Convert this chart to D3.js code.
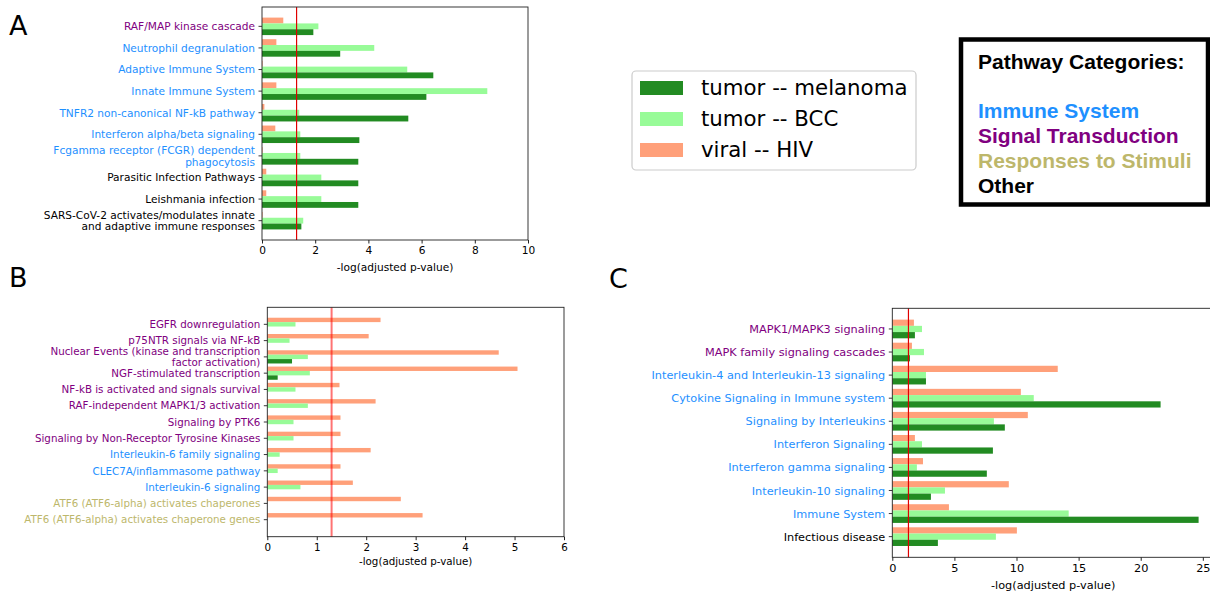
<!DOCTYPE html>
<html>
<head>
<meta charset="utf-8">
<script src="https://cdn.jsdelivr.net/npm/d3@7"></script>
<style>
  body { margin: 0; background: #fff; }
  svg { display: block; font-family: "DejaVu Sans", sans-serif; }
</style>
</head>
<body>
<div id="chart"></div>
<script>
// Data
var labelsA = ["RAF/MAP kinase cascade", "Neutrophil degranulation", "Adaptive Immune System",
  "Innate Immune System", "TNFR2 non-canonical NF-kB pathway", "Interferon alpha/beta signaling",
  "Fcgamma receptor (FCGR) dependent\nphagocytosis", "Parasitic Infection Pathways",
  "Leishmania infection", "SARS-CoV-2 activates/modulates innate\nand adaptive immune responses"];
var groupA = ["sig", "imm", "imm", "imm", "imm", "imm", "imm", "oth", "oth", "oth"];
var melA = [1.93, 2.94, 6.44, 6.18, 5.50, 3.66, 3.62, 3.62, 3.62, 1.48];
var bccA = [2.12, 4.22, 5.46, 8.47, 1.40, 1.44, 1.44, 2.23, 2.23, 1.55];
var hivA = [0.80, 0.54, 0.02, 0.54, 0.09, 0.50, 0.02, 0.16, 0.16, 0.02];

var labelsB = ["EGFR downregulation", "p75NTR signals via NF-kB",
  "Nuclear Events (kinase and transcription\nfactor activation)", "NGF-stimulated transcription",
  "NF-kB is activated and signals survival", "RAF-independent MAPK1/3 activation",
  "Signaling by PTK6", "Signaling by Non-Receptor Tyrosine Kinases", "Interleukin-6 family signaling",
  "CLEC7A/inflammasome pathway", "Interleukin-6 signaling", "ATF6 (ATF6-alpha) activates chaperones",
  "ATF6 (ATF6-alpha) activates chaperone genes"];
var groupB = ["sig", "sig", "sig", "sig", "sig", "sig", "sig", "sig", "imm", "imm", "imm", "stim", "stim"];
var melB = [0, 0, 0.50, 0.21, 0, 0, 0, 0, 0, 0, 0, 0, 0];
var bccB = [0.57, 0.45, 0.82, 0.86, 0.57, 0.82, 0.53, 0.53, 0.25, 0.21, 0.67, 0, 0];
var hivB = [2.29, 2.05, 4.68, 5.06, 1.46, 2.19, 1.48, 1.48, 2.09, 1.48, 1.73, 2.70, 3.14];

var labelsC = ["MAPK1/MAPK3 signaling", "MAPK family signaling cascades",
  "Interleukin-4 and Interleukin-13 signaling", "Cytokine Signaling in Immune system",
  "Signaling by Interleukins", "Interferon Signaling", "Interferon gamma signaling",
  "Interleukin-10 signaling", "Immune System", "Infectious disease"];
var groupC = ["sig", "sig", "imm", "imm", "imm", "imm", "imm", "imm", "imm", "oth"];
var melC = [1.82, 1.42, 2.71, 21.6, 9.06, 8.10, 7.61, 3.11, 24.66, 3.67];
var bccC = [2.39, 2.55, 2.71, 11.39, 8.18, 2.39, 1.98, 4.24, 14.2, 8.34];
var hivC = [1.74, 1.58, 13.32, 10.35, 10.91, 1.82, 2.47, 9.38, 4.56, 10.03];

var seriesNames = ["tumor -- melanoma", "tumor -- BCC", "viral -- HIV"];
var seriesColors = ["#228b22", "#98fb98", "#ffa07a"];
var groupNames = ["Immune System", "Signal Transduction", "Responses to Stimuli", "Other"];
var groupColors = { imm: "#1e90ff", sig: "#800080", stim: "#bdb76b", oth: "#000000" };
var threshold = 1.3;

var svg = d3.select("#chart").append("svg").attr("width", 1210).attr("height", 594);

function drawPanel(p) {
  var n = p.labels.length;
  var h = 0.27;
  var m = 0.05 * (n - 1 + 3 * h);
  var fs = p.fontSize;
  var x = d3.scaleLinear().domain([0, p.xmax]).range([p.left, p.right]);
  var y = d3.scaleLinear().domain([-1.5 * h - m, n - 1 + 1.5 * h + m]).range([p.top, p.bottom]);
  var g = svg.append("g");
  var bh = y(h) - y(0);

  // bars: HIV on top, BCC middle, melanoma bottom
  var sets = [[p.hiv, seriesColors[2], -h], [p.bcc, seriesColors[1], 0], [p.mel, seriesColors[0], h]];
  sets.forEach(function (s) {
    g.selectAll(null).data(s[0]).enter().append("rect")
      .attr("x", x(0))
      .attr("y", (d, i) => y(i + s[2]) - bh / 2)
      .attr("width", d => x(d) - x(0))
      .attr("height", bh)
      .attr("fill", s[1]);
  });

  // threshold line
  g.append("line")
    .attr("x1", x(threshold)).attr("x2", x(threshold))
    .attr("y1", p.top).attr("y2", p.bottom)
    .attr("stroke", p.lineColor).attr("stroke-width", p.lineWidth)
    .attr("stroke-opacity", p.lineOpacity);

  // spines
  g.append("rect")
    .attr("x", p.left).attr("y", p.top)
    .attr("width", p.right - p.left).attr("height", p.bottom - p.top)
    .attr("fill", "none").attr("stroke", "#222").attr("stroke-width", 0.9);

  // x axis
  var xAxis = d3.axisBottom(x).tickValues(p.ticks).tickSize(3.5).tickPadding(3).tickFormat(d3.format("d"));
  var ax = g.append("g").attr("transform", "translate(0," + p.bottom + ")").call(xAxis);
  ax.select(".domain").remove();
  ax.selectAll("text").attr("font-size", fs + "px").attr("font-family", "DejaVu Sans").attr("fill", "#000");
  ax.selectAll("line").attr("stroke", "#222");

  // y ticks and labels
  var yl = g.selectAll(null).data(p.labels).enter().append("g")
    .attr("transform", (d, i) => "translate(" + p.left + "," + y(i) + ")");
  yl.append("line").attr("x1", -3.5).attr("x2", 0).attr("stroke", "#222").attr("stroke-width", 0.9);
  var tx = yl.append("text")
    .attr("x", -7)
    .attr("text-anchor", "end")
    .attr("font-size", fs + "px")
    .attr("fill", (d, i) => groupColors[p.groups[i]]);
  tx.each(function (d) {
    var lines = d.split("\n");
    var t = d3.select(this);
    lines.forEach(function (line, k) {
      t.append("tspan").attr("x", -7)
        .attr("y", 0.36 * fs + (k - (lines.length - 1) / 2) * 1.1 * fs)
        .text(line);
    });
  });

  // axis title
  g.append("text")
    .attr("x", (p.left + p.right) / 2)
    .attr("y", p.bottom + p.titleDy)
    .attr("text-anchor", "middle")
    .attr("font-size", fs + "px")
    .text("-log(adjusted p-value)");

  // panel letter
  svg.append("text")
    .attr("x", p.letterX).attr("y", p.letterY)
    .attr("font-size", "27px")
    .text(p.letter);
}

drawPanel({ labels: labelsA, groups: groupA, mel: melA, bcc: bccA, hiv: hivA,
  left: 262, right: 528, top: 7, bottom: 240, xmax: 10, ticks: [0, 2, 4, 6, 8, 10],
  fontSize: 10.6, lineColor: "#e00000", lineWidth: 1.2, lineOpacity: 1, titleDy: 31,
  letter: "A", letterX: 9, letterY: 35 });

drawPanel({ labels: labelsB, groups: groupB, mel: melB, bcc: bccB, hiv: hivB,
  left: 267.3, right: 564, top: 307.3, bottom: 536.7, xmax: 6, ticks: [0, 1, 2, 3, 4, 5, 6],
  fontSize: 10.3, lineColor: "#ff0000", lineWidth: 2, lineOpacity: 0.55, titleDy: 28,
  letter: "B", letterX: 9, letterY: 287 });

drawPanel({ labels: labelsC, groups: groupC, mel: melC, bcc: bccC, hiv: hivC,
  left: 892.3, right: 1214, top: 308.3, bottom: 557.3, xmax: 25.9, ticks: [0, 5, 10, 15, 20, 25],
  fontSize: 11.3, lineColor: "#e00000", lineWidth: 1.2, lineOpacity: 1, titleDy: 32,
  letter: "C", letterX: 609, letterY: 288 });

// series legend
var lg = svg.append("g");
lg.append("rect")
  .attr("x", 632).attr("y", 71).attr("width", 284).attr("height", 99).attr("rx", 4)
  .attr("fill", "#fff").attr("stroke", "#cccccc").attr("stroke-width", 1.2);
seriesNames.forEach(function (name, i) {
  lg.append("rect").attr("x", 640).attr("y", 81 + i * 31).attr("width", 43).attr("height", 14)
    .attr("fill", seriesColors[i]);
  lg.append("text").attr("x", 701).attr("y", 95 + i * 31)
    .attr("font-size", "21.3px").text(name);
});

// pathway category box
var cb = svg.append("g").attr("font-family", "'Liberation Sans', Arial, sans-serif")
  .attr("font-weight", "bold").attr("font-size", "21px");
cb.append("rect")
  .attr("x", 961).attr("y", 39.5).attr("width", 247).attr("height", 165)
  .attr("fill", "#fff").attr("stroke", "#000").attr("stroke-width", 4.5);
cb.append("text").attr("x", 978).attr("y", 69).text("Pathway Categories:");
var gkeys = ["imm", "sig", "stim", "oth"];
groupNames.forEach(function (name, i) {
  cb.append("text").attr("x", 978).attr("y", 118 + i * 25)
    .attr("fill", groupColors[gkeys[i]]).text(name);
});
</script>
</body>
</html>
